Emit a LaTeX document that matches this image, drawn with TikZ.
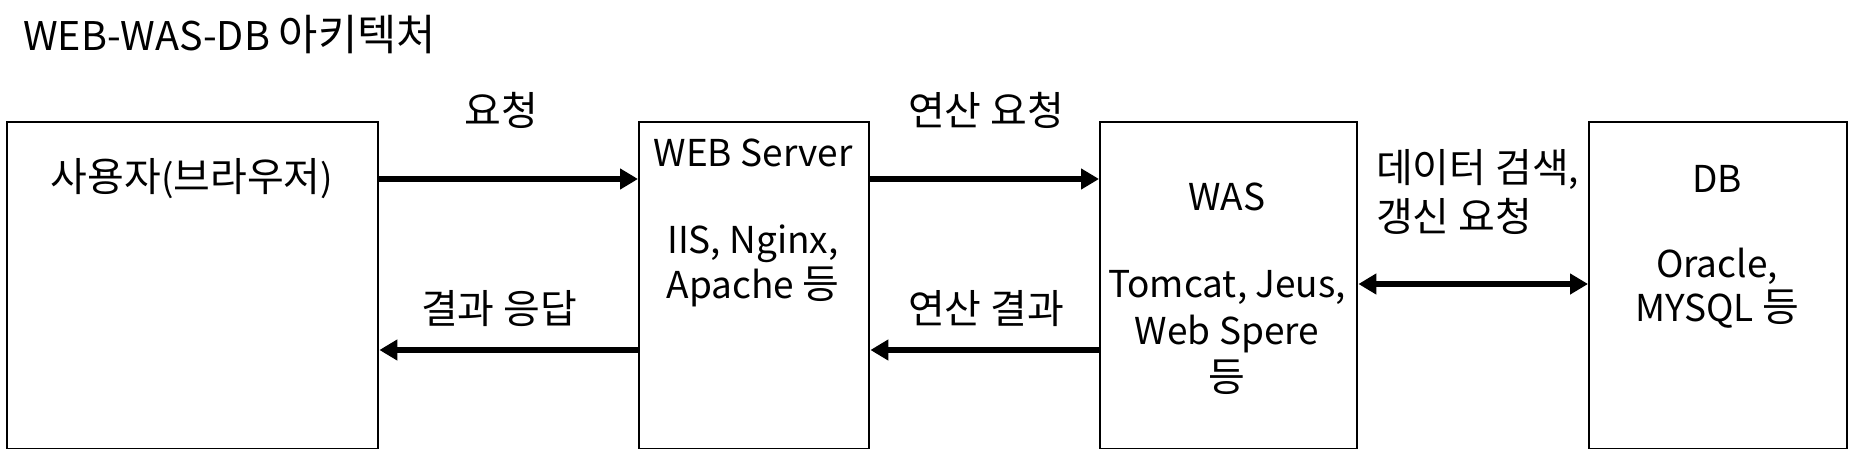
\documentclass[tikz,border=0pt]{standalone}
\usepackage{fontspec}
\setmainfont{Noto Sans CJK KR}
\newfontfamily\kr[Scale=1.08]{Noto Sans CJK KR}
\usetikzlibrary{arrows.meta}
\begin{document}
\begin{tikzpicture}[x=1pt,y=-1pt,
  box/.style={draw=black,line width=2.4pt,minimum width=#1,minimum height=327pt,anchor=north west,inner sep=0pt},
  txt/.style={font=\fontsize{37}{46}\selectfont,inner sep=0pt,anchor=center},
  arr/.style={line width=6.5pt,-{Triangle[length=18pt,width=20pt]}},
  darr/.style={line width=6.5pt,{Triangle[length=18pt,width=20pt]}-{Triangle[length=18pt,width=20pt]}}]
\useasboundingbox (0,0) rectangle (1849,449);
\node[txt,anchor=west,font=\fontsize{39.5}{46}\selectfont] (title) at (23,35) {WEB-WAS-DB {\kr 아키텍처}};
\node[box=371pt] (b1) at (6,121) {};
\node[box=230pt] (b2) at (638,121) {};
\node[box=257pt] (b3) at (1099,121) {};
\node[box=258pt] (b4) at (1588,121) {};
\node[txt] (t1) at (192,179) {{\kr 사용자}({\kr 브라우저})};
\node[txt] (t2a) at (753,153) {WEB Server};
\node[txt] (t2b) at (753,244) {IIS, Nginx,};
\node[txt] (t2c) at (753,287) {Apache {\kr 등}};
\node[txt] (t3a) at (1227,197) {WAS};
\node[txt] (t3b) at (1227,287) {Tomcat, Jeus,};
\node[txt] (t3c) at (1227,334) {Web Spere};
\node[txt] (t3d) at (1227,377) {\kr 등};
\node[txt] (t4a) at (1717,179) {DB};
\node[txt] (t4b) at (1717,266) {Oracle,};
\node[txt] (t4c) at (1717,309) {MYSQL {\kr 등}};
\node[txt] (l1) at (501,110) {\kr 요청};
\node[txt] (l2) at (499,309) {\kr 결과 응답};
\node[txt] (l3) at (986,110) {\kr 연산 요청};
\node[txt] (l4) at (986,309) {\kr 연산 결과};
\node[txt,anchor=west] (l5a) at (1376,169) {{\kr 데이터 검색},};
\node[txt,anchor=west] (l5b) at (1376,216) {\kr 갱신 요청};
\coordinate (ya) at (0,179);
\coordinate (yb) at (0,350);
\coordinate (yc) at (0,284);
\draw[arr] (b1.east |- ya) -- (b2.west |- ya);
\draw[arr] (b2.west |- yb) -- (b1.east |- yb);
\draw[arr] (b2.east |- ya) -- (b3.west |- ya);
\draw[arr] (b3.west |- yb) -- (b2.east |- yb);
\draw[darr] (b3.east |- yc) -- (b4.west |- yc);
\end{tikzpicture}
\end{document}
